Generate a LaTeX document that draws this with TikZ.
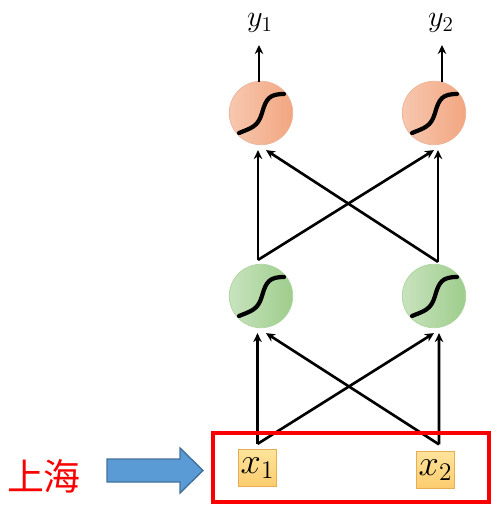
\documentclass[tikz,border=0pt]{standalone}
\usepackage{fontspec}
\newfontfamily\cjk{Noto Sans CJK SC}
\usepackage{tikz}
\usetikzlibrary{calc,arrows.meta}
\definecolor{outL}{RGB}{247,200,176}
\definecolor{outR}{RGB}{242,166,128}
\definecolor{outEdge}{RGB}{236,178,150}
\definecolor{hidL}{RGB}{200,227,190}
\definecolor{hidR}{RGB}{158,205,140}
\definecolor{hidEdge}{RGB}{172,212,158}
\definecolor{boxT}{RGB}{255,228,156}
\definecolor{boxB}{RGB}{252,204,110}
\definecolor{boxEdge}{RGB}{232,172,84}
\definecolor{arrowBlue}{RGB}{91,155,213}
\definecolor{arrowEdge}{RGB}{65,113,156}
\definecolor{frameRed}{RGB}{250,0,0}

\begin{document}
\begin{tikzpicture}[x=0.02cm,y=-0.02cm,>={Stealth[length=1.8mm,width=1.7mm]},
    outunit/.style={circle,minimum size=1.27cm,inner sep=0pt,draw=outEdge,left color=outL,right color=outR},
    hidunit/.style={circle,minimum size=1.27cm,inner sep=0pt,draw=hidEdge,left color=hidL,right color=hidR},
    inbox/.style={draw=boxEdge,top color=boxT,bottom color=boxB,minimum width=0.77cm,minimum height=0.75cm,
      inner sep=0pt,font=\fontsize{22}{24}\selectfont},
    link/.style={->,line width=1.5pt},
    sig/.style={line width=2.4pt,line cap=round}]
    \useasboundingbox (0,0) rectangle (498,513);
    % units
    \node[outunit] (o1) at (261,113) {};
    \node[outunit] (o2) at (434,113) {};
    \node[hidunit] (h1) at (261,296) {};
    \node[hidunit] (h2) at (434,296) {};
    \foreach \u in {o1,o2,h1,h2}
      \draw[sig,shift={(\u.center)}] (-22,20) .. controls (-10,15) and (-3,14) .. (1,0)
        .. controls (5,-14) and (8,-19) .. (23,-19);
    % inputs and outputs
    \node[inbox] (x1) at (257.5,468) {$x_1$};
    \node[inbox] (x2) at (435.5,470) {$x_2$};
    \node[font=\fontsize{18}{20}\selectfont] (y1) at (260,23) {$y_1$};
    \node[font=\fontsize{18}{20}\selectfont] (y2) at (441,23) {$y_2$};
    % connections
    \draw[link] ($(x1.north)+(0,-5)$) -- ($(h1.south)+(-3.5,5)$);
    \draw[link] ($(x1.north)+(0,-5)$) -- ($(h2.south)+(0,5)$);
    \draw[link] ($(x2.north)+(3.5,-6.5)$) -- ($(h1.south)+(5,5)$);
    \draw[link] ($(x2.north)+(3.5,-6.5)$) -- ($(h2.south)+(5,5)$);
    \draw[link] ($(h1.north)+(-3,-4)$) -- ($(o1.south)+(-3,5)$);
    \draw[link] ($(h1.north)+(-3,-4)$) -- ($(o2.south)+(0,5)$);
    \draw[link] ($(h2.north)+(4,-2)$) -- ($(o1.south)+(5,5)$);
    \draw[link] ($(h2.north)+(4,-2)$) -- ($(o2.south)+(4,5)$);
    \draw[link] ($(o1.north)+(-2,1)$) -- ($(y1)+(-1,22)$);
    \draw[link] ($(o2.north)+(8,1)$) -- ($(y2)+(1,22)$);
    % input frame and word
    \draw[frameRed,line width=2.3pt] (213,433) rectangle (489,502);
    \draw[fill=arrowBlue,draw=arrowEdge,line width=0.8pt] (107,459) -- (180,459) -- (180,448) -- (203,470.5)
      -- (180,493) -- (180,482) -- (107,482) -- cycle;
    \node[text=frameRed,font=\cjk\fontsize{21}{24}\selectfont] (city) at (44,476) {上海};
  \end{tikzpicture}
\end{document}
